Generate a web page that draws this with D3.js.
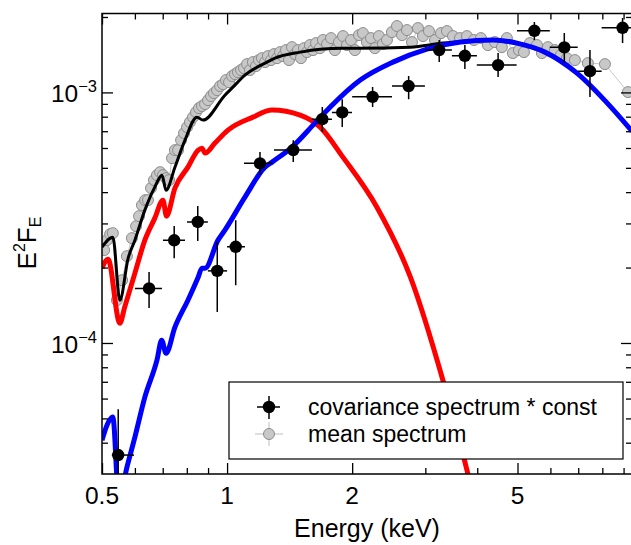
<!DOCTYPE html>
<html><head><meta charset="utf-8">
<script src="https://cdn.jsdelivr.net/npm/d3@7"></script>
<style>body{margin:0;background:#fff} svg{display:block} text{font-family:"Liberation Sans",Arial,Helvetica,sans-serif;fill:#000}</style>
</head><body><svg id="c" width="631" height="545"></svg>
<script>
// ---- data ----
const xMajorTicks = [0.5, 1, 2, 5];
const xMinorTicks = [0.6, 0.7, 0.8, 0.9, 3, 4, 6, 7, 8, 9];
const yMajorTicks = [1e-4, 1e-3];
const yMinorTicks = [4e-5, 5e-5, 6e-5, 7e-5, 8e-5, 9e-5, 2e-4, 3e-4, 4e-4, 5e-4, 6e-4, 7e-4, 8e-4, 9e-4, 2e-3];
const xTickLabels = ["0.5", "1", "2", "5"];
const yTickExp = ["−4", "−3"];

// mean spectrum (gray), F in units of 1e-3
const meanE = [0.506,0.514,0.523,0.531,0.543,0.559,0.574,0.590,0.604,0.614,0.624,0.635,0.645,0.656,0.667,0.678,0.690,0.701,0.713,0.725,0.737,0.749,0.762,0.775,0.788,0.801,0.814,0.828,0.842,0.856,0.870,0.885,0.900,0.915,0.930,0.946,0.962,0.978,0.994,1.011,1.028,1.045,1.062,1.080,1.098,1.117,1.135,1.154,1.174,1.193,1.213,1.234,1.254,1.276,1.297,1.319,1.341,1.363,1.386,1.409,1.433,1.457,1.481,1.506,1.531,1.557,1.583,1.610,1.637,1.673,1.701,1.740,1.779,1.818,1.859,1.901,1.943,1.987,2.031,2.077,2.123,2.171,2.220,2.269,2.320,2.372,2.425,2.493,2.564,2.636,2.710,2.786,2.880,2.961,3.061,3.165,3.272,3.382,3.497,3.635,3.778,3.927,4.082,4.243,4.411,4.585,4.714,4.873,5.039,5.181,5.355,5.568,5.724,5.917,6.152,6.360,6.575,6.873,7.385,8.117,9.220];
const meanF = [0.2347,0.2573,0.2718,0.2744,0.1482,0.1781,0.2221,0.2620,0.2925,0.3208,0.3549,0.3716,0.3716,0.4150,0.4466,0.4676,0.4806,0.4676,0.4548,0.4466,0.5466,0.5884,0.5884,0.6450,0.6882,0.7268,0.7611,0.7968,0.8345,0.8657,0.8817,0.8982,0.9317,0.9666,0.9936,1.021,1.060,1.079,1.120,1.099,1.162,1.183,1.205,1.228,1.250,1.297,1.228,1.321,1.274,1.346,1.370,1.321,1.396,1.346,1.422,1.370,1.448,1.396,1.475,1.346,1.516,1.422,1.475,1.370,1.502,1.448,1.545,1.475,1.573,1.502,1.618,1.559,1.647,1.475,1.588,1.678,1.545,1.618,1.475,1.693,1.725,1.588,1.647,1.502,1.678,1.559,1.618,1.741,1.840,1.693,1.773,1.588,1.806,1.678,1.757,1.618,1.725,1.757,1.678,1.647,1.678,1.618,1.647,1.545,1.588,1.516,1.647,1.435,1.475,1.448,1.573,1.545,1.435,1.516,1.475,1.409,1.370,1.346,1.309,1.297,1.003];

// covariance spectrum * const (black points with errors)
const covE   = [0.547,0.649,0.746,0.850,0.947,1.049,1.200,1.443,1.695,1.893,2.240,2.735,3.240,3.735,4.49,5.49,6.48,7.47,8.95];
const covElo = [0.528,0.600,0.701,0.801,0.899,1.000,1.098,1.297,1.600,1.788,2.000,2.494,2.993,3.476,3.99,4.985,5.98,6.98,7.97];
const covEhi = [0.597,0.697,0.792,0.899,1.000,1.104,1.283,1.600,1.788,1.998,2.494,2.993,3.476,3.993,4.975,5.98,6.98,7.97,10.0];
const covF   = [3.57e-5,1.65e-4,2.57e-4,3.04e-4,1.94e-4,2.42e-4,5.21e-4,5.89e-4,7.82e-4,8.32e-4,9.60e-4,1.060e-3,1.475e-3,1.400e-3,1.285e-3,1.762e-3,1.513e-3,1.216e-3,1.811e-3];
const covFlo = [2.5e-5,1.38e-4,2.18e-4,2.55e-4,1.33e-4,1.70e-4,4.68e-4,5.27e-4,6.95e-4,7.27e-4,8.74e-4,9.40e-4,1.321e-3,1.239e-3,1.151e-3,1.618e-3,1.309e-3,9.58e-4,1.574e-3];
const covFhi = [5.44e-5,1.92e-4,2.93e-4,3.52e-4,2.53e-4,3.09e-4,5.78e-4,6.45e-4,8.74e-4,9.40e-4,1.050e-3,1.162e-3,1.618e-3,1.545e-3,1.435e-3,1.908e-3,1.725e-3,1.475e-3,1.98e-3];

// model components
const redE = [0.500,0.517,0.552,0.567,0.600,0.634,0.670,0.701,0.7147,0.749,0.805,0.852,0.870,0.885,0.935,1.005,1.154,1.283,1.499,1.675,1.900,2.294,2.762,3.307,3.799,4.36];
const redF = [1.99e-4,2.16e-4,1.20e-4,1.39e-4,1.90e-4,2.573e-4,3.149e-4,3.716e-4,3.208e-4,4.150e-4,5.032e-4,5.884e-4,5.99e-4,5.724e-4,6.277e-4,7.071e-4,7.968e-4,8.498e-4,8.117e-4,7.268e-4,5.516e-4,3.484e-4,1.831e-4,7.10e-5,3.00e-5,1.1e-5];
const blueE = [0.500,0.514,0.531,0.549,0.574,0.600,0.634,0.678,0.696,0.713,0.749,0.805,0.852,0.870,0.885,0.951,0.988,1.104,1.234,1.283,1.433,1.627,1.771,2.092,2.507,3.027,3.647,4.363,4.985,5.82,6.95,8.39,9.43];
const blueF = [4.09e-5,4.70e-5,5.06e-5,2.36e-5,3.19e-5,4.21e-5,6.08e-5,8.54e-5,1.026e-4,9.10e-5,1.156e-4,1.482e-4,1.831e-4,1.989e-4,1.989e-4,2.573e-4,2.821e-4,3.82e-4,5.03e-4,5.27e-4,6.05e-4,7.54e-4,8.74e-4,1.120e-3,1.321e-3,1.489e-3,1.588e-3,1.618e-3,1.573e-3,1.448e-3,1.194e-3,8.74e-4,7.0e-4];
const totE = [0.500,0.531,0.552,0.578,0.600,0.634,0.670,0.697,0.713,0.749,0.792,0.846,0.875,0.988,1.033,1.104,1.247,1.304,1.499,1.675,1.900,2.07,2.762,3.307,3.855,4.363,4.985,5.82,6.95,8.39,9.43];
const totF = [2.412e-4,2.645e-4,1.482e-4,2.181e-4,2.573e-4,3.390e-4,4.188e-4,4.676e-4,4.074e-4,5.03e-4,6.450e-4,7.968e-4,7.752e-4,9.75e-4,1.050e-3,1.172e-3,1.321e-3,1.370e-3,1.448e-3,1.488e-3,1.502e-3,1.502e-3,1.516e-3,1.573e-3,1.602e-3,1.620e-3,1.576e-3,1.450e-3,1.196e-3,8.76e-4,7.02e-4];

const legendLabels = ["covariance spectrum * const", "mean spectrum"];

// ---- chart ----
const svg = d3.select('#c');
const L = 102, R = 632, T = 13.5, B = 474;
const x = d3.scaleLog().domain([0.5, 9.43]).range([L, R]);
const y = d3.scaleLog().domain([3.0e-5, 2.065e-3]).range([B, T]);

svg.append('defs').append('clipPath').attr('id', 'clip')
  .append('rect').attr('x', L).attr('y', T).attr('width', R - L).attr('height', B - T);

const plot = svg.append('g').attr('clip-path', 'url(#clip)');

const idx = a => d3.range(a.length);
const mkLine = (E, F, s) => d3.line().x(i => x(E[i])).y(i => y(F[i] * s)).curve(d3.curveMonotoneX);

// mean spectrum
plot.append('path').datum(idx(meanE)).attr('d', d3.line().x(i => x(meanE[i])).y(i => y(meanF[i] * 1e-3)))
  .attr('fill', 'none').attr('stroke', '#c8c8c8').attr('stroke-width', 1);
plot.append('g').selectAll('circle').data(idx(meanE)).join('circle')
  .attr('cx', i => x(meanE[i])).attr('cy', i => y(meanF[i] * 1e-3)).attr('r', 5.5)
  .attr('fill', '#c8c8c8').attr('stroke', '#8c8c8c').attr('stroke-width', 1);

// model curves
plot.append('path').datum(idx(totE)).attr('d', mkLine(totE, totF, 1))
  .attr('fill', 'none').attr('stroke', '#000').attr('stroke-width', 3);
plot.append('path').datum(idx(redE)).attr('d', mkLine(redE, redF, 1))
  .attr('fill', 'none').attr('stroke', '#ff0000').attr('stroke-width', 5);
plot.append('path').datum(idx(blueE)).attr('d', mkLine(blueE, blueF, 1))
  .attr('fill', 'none').attr('stroke', '#0000ff').attr('stroke-width', 5);

// covariance points
const cg = plot.append('g');
idx(covE).forEach(i => {
  cg.append('line').attr('x1', x(covElo[i])).attr('x2', x(covEhi[i])).attr('y1', y(covF[i])).attr('y2', y(covF[i]))
    .attr('stroke', '#000').attr('stroke-width', 1.5);
  cg.append('line').attr('x1', x(covE[i])).attr('x2', x(covE[i])).attr('y1', y(covFlo[i])).attr('y2', y(covFhi[i]))
    .attr('stroke', '#000').attr('stroke-width', 1.5);
  cg.append('circle').attr('cx', x(covE[i])).attr('cy', y(covF[i])).attr('r', 6.2).attr('fill', '#000');
});

// axes
function axis(gen, scale, vals, size, tr) {
  svg.append('g').attr('transform', tr)
    .call(gen(scale).tickValues(vals).tickSizeInner(size).tickSizeOuter(0).tickFormat(''))
    .call(g => { g.select('.domain').remove(); g.selectAll('text').remove();
                 g.selectAll('line').attr('stroke', '#000').attr('stroke-width', 1.3); });
}
axis(d3.axisBottom, x, xMajorTicks, -11, `translate(0,${B})`);
axis(d3.axisBottom, x, xMinorTicks, -6, `translate(0,${B})`);
axis(d3.axisTop, x, xMajorTicks, -11, `translate(0,${T})`);
axis(d3.axisTop, x, xMinorTicks, -6, `translate(0,${T})`);
axis(d3.axisLeft, y, yMajorTicks, -11, `translate(${L},0)`);
axis(d3.axisLeft, y, yMinorTicks, -6, `translate(${L},0)`);
axis(d3.axisRight, y, yMajorTicks, -11, `translate(${R},0)`);
axis(d3.axisRight, y, yMinorTicks, -6, `translate(${R},0)`);

svg.append('rect').attr('x', L).attr('y', T).attr('width', R - L).attr('height', B - T)
  .attr('fill', 'none').attr('stroke', '#000').attr('stroke-width', 1.5);

// tick labels
xMajorTicks.forEach((v, i) => {
  svg.append('text').attr('x', x(v)).attr('y', 503.5).attr('text-anchor', 'middle')
    .attr('font-size', 24.5).text(xTickLabels[i]);
});
yMajorTicks.forEach((v, i) => {
  const t = svg.append('text').attr('x', 97).attr('y', y(v) + 10).attr('text-anchor', 'end').attr('font-size', 24.5);
  t.append('tspan').text('10');
  t.append('tspan').attr('dy', -10).attr('font-size', 16.5).text(yTickExp[i]);
});

// axis titles
svg.append('text').attr('x', 367).attr('y', 537).attr('text-anchor', 'middle').attr('font-size', 25).text('Energy (keV)');
const yt = svg.append('text').attr('transform', 'translate(36,243) rotate(-90)').attr('text-anchor', 'middle').attr('font-size', 26);
yt.append('tspan').text('E');
yt.append('tspan').attr('dy', -11).attr('font-size', 16).text('2');
yt.append('tspan').attr('dy', 11).text('F');
yt.append('tspan').attr('dy', 5).attr('font-size', 16).text('E');

// legend
const lg = svg.append('g');
lg.append('rect').attr('x', 229).attr('y', 382).attr('width', 394).attr('height', 77)
  .attr('fill', '#fff').attr('stroke', '#000').attr('stroke-width', 1.2);
lg.append('line').attr('x1', 257).attr('x2', 280).attr('y1', 407).attr('y2', 407).attr('stroke', '#000').attr('stroke-width', 1.5);
lg.append('line').attr('x1', 269).attr('x2', 269).attr('y1', 396).attr('y2', 419).attr('stroke', '#000').attr('stroke-width', 1.5);
lg.append('circle').attr('cx', 269).attr('cy', 407).attr('r', 6.2).attr('fill', '#000');
lg.append('line').attr('x1', 255).attr('x2', 283).attr('y1', 434).attr('y2', 434).attr('stroke', '#c8c8c8').attr('stroke-width', 1.2);
lg.append('line').attr('x1', 269).attr('x2', 269).attr('y1', 422).attr('y2', 446).attr('stroke', '#c8c8c8').attr('stroke-width', 1.2);
lg.append('circle').attr('cx', 269).attr('cy', 434).attr('r', 5.5).attr('fill', '#c8c8c8').attr('stroke', '#8c8c8c');
legendLabels.forEach((s, i) => {
  lg.append('text').attr('x', 308).attr('y', 415 + i * 26.5).attr('font-size', 23).text(s);
});
</script></body></html>
